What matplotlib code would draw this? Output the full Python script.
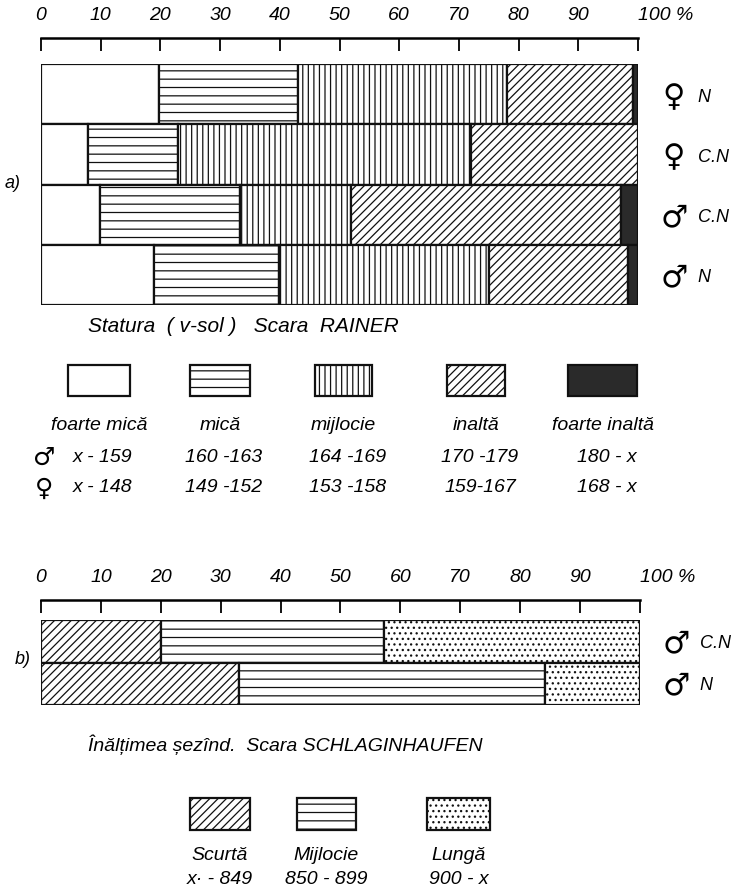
import matplotlib
matplotlib.use("Agg")
import matplotlib.pyplot as plt
from matplotlib.patches import Rectangle

plt.rcParams['font.family'] = ['Liberation Sans', 'DejaVu Sans']
plt.rcParams['font.style'] = 'italic'
plt.rcParams['hatch.linewidth'] = 0.9

W, H = 733, 894

# a) Statura (v-sol), scara Rainer -- percent per class
cats_a = ['foarte mică', 'mică', 'mijlocie', 'inaltă', 'foarte inaltă']
groups_a_sym = ['♀', '♀', '♂', '♂']
groups_a_lab = ['N', 'C.N', 'C.N', 'N']
f_N = [19.7, 23.3, 35.1, 21.0, 0.9]
f_CN = [7.9, 15.0, 49.2, 27.9, 0.0]
m_CN = [9.9, 23.4, 18.7, 45.2, 2.8]
m_N = [19.0, 20.8, 35.2, 23.3, 1.7]
ranges_m = ['x - 159', '160 -163', '164 -169', '170 -179', '180 - x']
ranges_f = ['x - 148', '149 -152', '153 -158', '159-167', '168 - x']

# b) Inaltimea sezind, scara Schlaginhaufen
cats_b = ['Scurtă', 'Mijlocie', 'Lungă']
groups_b_sym = ['♂', '♂']
groups_b_lab = ['C.N', 'N']
m_CN_b = [20.0, 37.3, 42.7]
m_N_b = [33.1, 51.1, 15.8]
ranges_b = ['x· - 849', '850 - 899', '900 - x']

ticks = list(range(0, 101, 10))

style_a = [dict(facecolor='white', hatch=''),
           dict(facecolor='white', hatch='--'),
           dict(facecolor='white', hatch='|||'),
           dict(facecolor='white', hatch='////'),
           dict(facecolor='#2a2a2a', hatch='')]
style_b = [dict(facecolor='white', hatch='////'),
           dict(facecolor='white', hatch='--'),
           dict(facecolor='white', hatch='...')]


def box(x0, y0, x1, y1):
    # pixel box (top-left origin) -> figure fraction rect
    return [x0 / W, 1 - y1 / H, (x1 - x0) / W, (y1 - y0) / H]


fig = plt.figure(figsize=(W / 100, H / 100), dpi=100)


def scale_axis(x0, x1, y):
    ax = fig.add_axes(box(x0, y, x1, y + 6))
    ax.set_xlim(0, 100)
    ax.set_ylim(0, 1)
    for s in ['left', 'right', 'bottom']:
        ax.spines[s].set_visible(False)
    ax.spines['top'].set_linewidth(1.8)
    ax.set_xticks(ticks)
    ax.set_xticklabels([str(t) for t in ticks[:-1]] + ['100 %'])
    ax.tick_params(axis='x', top=True, labeltop=True, bottom=False, labelbottom=False,
                   direction='in', length=9, width=1.3, labelsize=14, pad=10)
    lab = ax.get_xticklabels()[-1]
    lab.set_horizontalalignment('left')
    lab.set_x(96.5)
    ax.set_yticks([])
    ax.patch.set_alpha(0)
    return ax


def bars(x0, x1, y0, y1, rows, styles):
    ax = fig.add_axes(box(x0, y0, x1, y1))
    n = len(rows)
    for i, vals in enumerate(rows):
        left = 0
        for v, st in zip(vals, styles):
            if v > 0:
                ax.barh(i, v, left=left, height=1.0, edgecolor='#111111',
                        linewidth=1.6, **st)
            left += v
    ax.set_xlim(0, 100)
    ax.set_ylim(n - 0.5, -0.5)
    ax.axis('off')
    return ax


# ---- a) ----
scale_axis(41, 638, 38)
ax_a = bars(41, 638, 64, 305, [f_N, f_CN, m_CN, m_N], style_a)
for i, (s, l) in enumerate(zip(groups_a_sym, groups_a_lab)):
    ax_a.text(1.06, 1 - (i + 0.55) / 4, s, transform=ax_a.transAxes, fontsize=22,
              ha='center', va='center', family='DejaVu Sans', style='normal')
    ax_a.text(1.1, 1 - (i + 0.55) / 4, l, transform=ax_a.transAxes, fontsize=13,
              ha='left', va='center')
fig.text(5 / W, 1 - 183 / H, 'a)', fontsize=13, va='center')
fig.text(88 / W, 1 - 327 / H, 'Statura  ( v-sol )   Scara  RAINER', fontsize=15,
         va='center')

key_a_x = [(68, 130), (190, 250), (315, 372), (447, 505), (568, 637)]
for (xa, xb), st, c, rm, rf in zip(key_a_x, style_a, cats_a, ranges_m, ranges_f):
    fig.add_artist(Rectangle((xa / W, 1 - 396 / H), (xb - xa) / W, 31 / H,
                             transform=fig.transFigure, edgecolor='#111111',
                             linewidth=1.6, **st))
    xc = (xa + xb) / 2 / W
    fig.text(xc, 1 - 425 / H, c, fontsize=14, ha='center', va='center')
    fig.text(xc + 4 / W, 1 - 458 / H, rm, fontsize=14, ha='center', va='center')
    fig.text(xc + 4 / W, 1 - 487 / H, rf, fontsize=14, ha='center', va='center')
fig.text(44 / W, 1 - 458 / H, '♂', fontsize=18, ha='center', va='center',
         family='DejaVu Sans', style='normal')
fig.text(44 / W, 1 - 489 / H, '♀', fontsize=18, ha='center', va='center',
         family='DejaVu Sans', style='normal')

# ---- b) ----
scale_axis(41, 640, 600)
ax_b = bars(41, 640, 620, 705, [m_CN_b, m_N_b], style_b)
for i, (s, l) in enumerate(zip(groups_b_sym, groups_b_lab)):
    ax_b.text(1.06, 1 - (i + 0.55) / 2, s, transform=ax_b.transAxes, fontsize=22,
              ha='center', va='center', family='DejaVu Sans', style='normal')
    ax_b.text(1.1, 1 - (i + 0.55) / 2, l, transform=ax_b.transAxes, fontsize=13,
              ha='left', va='center')
fig.text(15 / W, 1 - 660 / H, 'b)', fontsize=13, va='center')
fig.text(88 / W, 1 - 745 / H, 'Înălțimea șezînd.  Scara SCHLAGINHAUFEN', fontsize=14,
         va='center')

key_b_x = [(190, 250), (297, 356), (427, 490)]
for (xa, xb), st, c, r in zip(key_b_x, style_b, cats_b, ranges_b):
    fig.add_artist(Rectangle((xa / W, 1 - 830 / H), (xb - xa) / W, 32 / H,
                             transform=fig.transFigure, edgecolor='#111111',
                             linewidth=1.6, **st))
    xc = (xa + xb) / 2 / W
    fig.text(xc, 1 - 855 / H, c, fontsize=14, ha='center', va='center')
    fig.text(xc, 1 - 880 / H, r, fontsize=14, ha='center', va='center')

fig.savefig('out.png', dpi=100)
